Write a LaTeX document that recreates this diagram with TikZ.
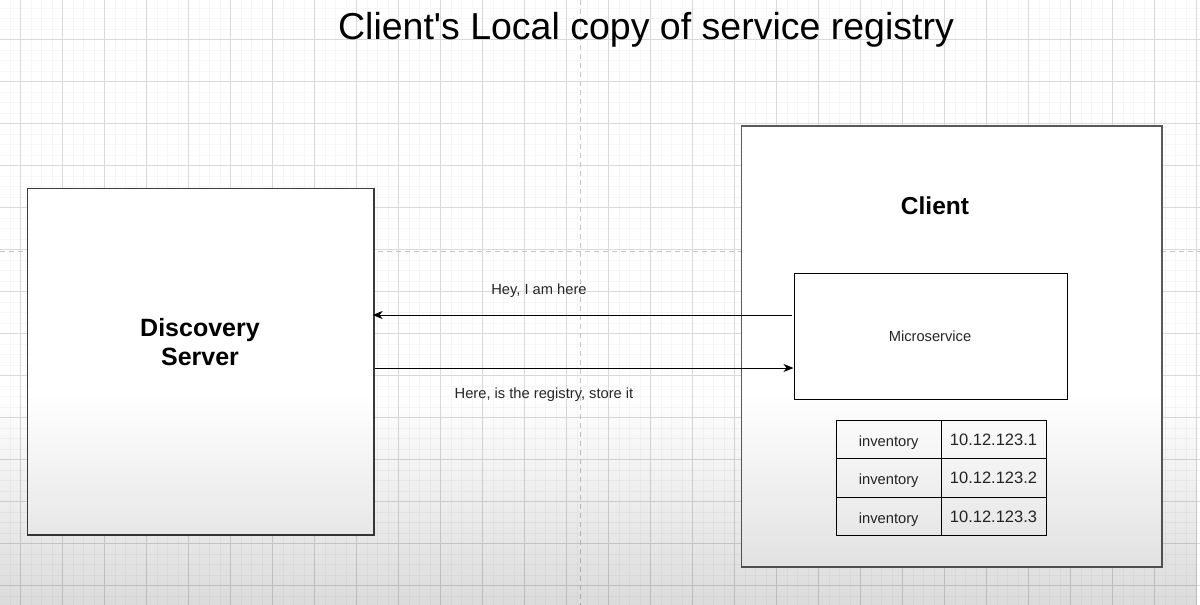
\documentclass[tikz,border=0pt]{standalone}
\usepackage{fontspec}
\setmainfont{Liberation Sans}
\newfontfamily\plainfont{Liberation Sans}
\usetikzlibrary{arrows.meta,fadings}
\tikzfading[name=fadedown, top color=transparent!100, bottom color=transparent!0]
\definecolor{gmajc}{HTML}{D9D9D9}
\definecolor{gminc}{HTML}{F6F6F6}
\definecolor{dashc}{HTML}{C4C4C4}
\definecolor{boxc}{HTML}{3A3A3A}
\tikzset{
  gmaj/.style={draw=gmajc, line width=0.9pt},
  gmin/.style={draw=gminc, line width=0.5pt},
  guide/.style={draw=dashc, line width=0.9pt, dash pattern=on 5pt off 4pt},
  bigbox/.style={draw=boxc, line width=1.3pt, fill=white, rectangle, inner sep=0pt},
  msbox/.style={draw=black, line width=1pt, fill=white, rectangle, inner sep=0pt},
  cell/.style={draw=black, line width=1pt, fill=white, rectangle, inner sep=0pt, minimum height=38.5pt},
  arr/.style={draw=black, line width=1pt, -{Stealth[length=10pt,width=8pt,inset=3pt]}},
  lbl/.style={font=\fontsize{14.7}{16}\selectfont, text=black!85, inner sep=0pt}
}
\begin{document}
\begin{tikzpicture}[x=1pt,y=-1pt]
\useasboundingbox (0,0) rectangle (1200,605);
\fill[white] (0,0) rectangle (1200,605);
% grid
\foreach \i in {-4,...,115} {\draw[gmin] ({20.7+10.5*\i},0) -- ({20.7+10.5*\i},605);}
\foreach \i in {-4,...,58} {\draw[gmin] (0,{39.7+10.5*\i}) -- (1200,{39.7+10.5*\i});}
\foreach \i in {-1,...,28} {\draw[gmaj] ({20.7+42*\i},0) -- ({20.7+42*\i},605);}
\foreach \i in {-1,...,14} {\draw[gmaj] (0,{39.7+42*\i}) -- (1200,{39.7+42*\i});}
% guides
\draw[guide] (580,0) -- (580,605);
\draw[guide] (0,251) -- (1200,251);
% title
\node[font=\plainfont\fontsize{37.5}{40}\selectfont, inner sep=0pt] (title) at (646,30) {Client's Local copy of service registry};
% discovery server
\node[bigbox, minimum width=346.5pt, minimum height=346.5pt] (ds) at (200.75,361.75) {};
\node[font=\fontsize{25}{29.5}\selectfont\bfseries, align=center, inner sep=0pt] (dstxt) at (200,342) {Discovery\\Server};
% client
\node[bigbox, draw=black!65, line width=1.5pt, minimum width=420.5pt, minimum height=441pt] (client) at (951.75,346.5) {};
\node[font=\fontsize{24.5}{29}\selectfont\bfseries, inner sep=0pt] (clienttxt) at (935,206) {Client};
% microservice
\node[msbox, minimum width=273pt, minimum height=126pt] (ms) at (930.5,336) {};
\node[lbl] (mstxt) at (930,336.5) {Microservice};
% table
\foreach \r/\yy in {1/439.25, 2/477.75, 3/516.25} {
  \node[cell, minimum width=104.5pt] (n\r) at (888.75,\yy) {};
  \node[lbl] at ([yshift=-3pt]n\r.center) {inventory};
  \node[cell, minimum width=105pt] (ip\r) at (993.5,\yy) {};
  \node[font=\fontsize{16.5}{18}\selectfont, text=black!85, inner sep=0pt] at ([yshift=-0.5pt]ip\r.center) {10.12.123.\r};
}
% arrows
\draw[arr] ([yshift=21pt,xshift=-2pt]ms.west) -- ([yshift=21pt,xshift=-2pt]ms.west -| ds.east);
\draw[arr] ([yshift=-32pt]ms.west -| ds.east) -- ([yshift=-32pt]ms.west);
\node[lbl] (hey) at (539,290.5) {Hey, I am here};
\node[lbl] (reg) at (544,395) {Here, is the registry, store it};
% bottom shading overlay
\fill[black, opacity=0.14, path fading=fadedown] (0,395) rectangle (1200,605);
\end{tikzpicture}
\end{document}
